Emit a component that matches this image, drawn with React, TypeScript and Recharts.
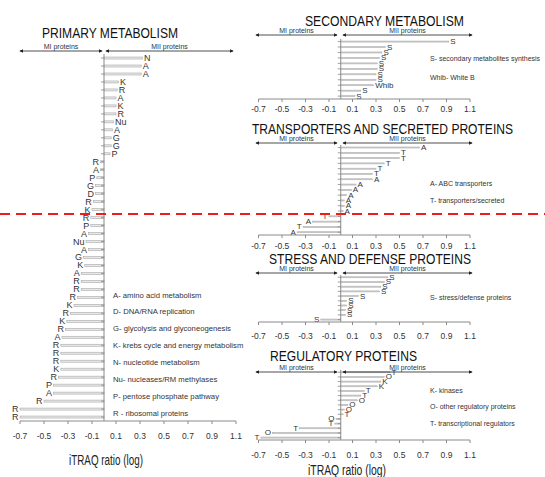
import React from 'react'
import { BarChart, Bar, XAxis, YAxis, ReferenceLine } from 'recharts'

const FONT = "'Liberation Sans', Arial, sans-serif"

const ratioTicks = [-0.7, -0.5, -0.3, -0.1, 0.1, 0.3, 0.5, 0.7, 0.9, 1.1]

// primary metabolism, top to bottom
const primaryCodes = [
  'N', 'A', 'A', 'K', 'R', 'A', 'K', 'R', 'Nu', 'A', 'G', 'G', 'P',
  'R', 'A', 'P', 'G', 'D', 'R', 'K', 'R', 'P', 'A', 'Nu', 'A', 'G', 'K', 'A', 'R', 'R', 'R', 'K',
  'R', 'K', 'R', 'A', 'R', 'R', 'R', 'K', 'R', 'P', 'A', 'R', 'R', 'R',
]
const primaryRatios = [
  0.32, 0.31, 0.31, 0.12, 0.11, 0.1, 0.1, 0.1, 0.08, 0.07, 0.06, 0.06, 0.05,
  -0.03, -0.03, -0.06, -0.07, -0.07, -0.09, -0.1, -0.11, -0.11, -0.13, -0.15, -0.13, -0.17, -0.16, -0.19, -0.19, -0.19, -0.22, -0.25,
  -0.28, -0.31, -0.32, -0.35, -0.36, -0.36, -0.36, -0.36, -0.38, -0.42, -0.42, -0.5, -0.7, -0.7,
]

const secondaryCodes = ['S', 'S', 'S', 'S', 'S', 'S', 'S', 'S', 'Whib', 'S', 'S']
const secondaryRatios = [0.92, 0.38, 0.35, 0.33, 0.31, 0.31, 0.3, 0.3, 0.28, 0.17, 0.12]

const transportCodes = ['A', 'T', 'T', 'T', 'T', 'T', 'A', 'A', 'A', 'A', 'A', 'A', 'A', 'T', 'A', 'T', 'A']
const transportRatios = [0.67, 0.5, 0.5, 0.37, 0.3, 0.27, 0.27, 0.13, 0.09, 0.05, 0.03, 0.03, 0.02, -0.1, -0.24, -0.32, -0.37]

const stressCodes = ['S', 'S', 'S', 'S', 'S', 'S', 'S', 'S', 'S', 'S']
const stressRatios = [0.4, 0.37, 0.34, 0.33, 0.15, 0.05, 0.05, 0.04, 0.04, -0.17]

const regulatoryCodes = ['T', 'O', 'K', 'K', 'T', 'T', 'O', 'O', 'O', 'T', 'O', 'T', 'T', 'O', 'T']
const regulatoryRatios = [0.42, 0.37, 0.34, 0.31, 0.2, 0.17, 0.14, 0.06, 0.03, 0.02, -0.04, -0.05, -0.35, -0.58, -0.68]

const primaryLegend = [
  'A- amino acid metabolism',
  'D- DNA/RNA replication',
  'G- glycolysis and glyconeogenesis',
  'K- krebs cycle and energy metabolism',
  'N- nucleotide metabolism',
  'Nu- nucleases/RM methylases',
  'P- pentose phosphate pathway',
  'R - ribosomal proteins',
]
const secondaryLegend = ['S- secondary metabolites synthesis', 'Whib- White B']
const transportLegend = ['A- ABC transporters', 'T- transporters/secreted']
const stressLegend = ['S- stress/defense proteins']
const regulatoryLegend = ['K- kinases', 'O- other regulatory proteins', 'T- transcriptional regulators']

type Row = { id: number; code: string; ratio: number }
const toRows = (codes: string[], ratios: number[]): Row[] =>
  codes.map((code, i) => ({ id: i, code, ratio: ratios[i] }))

// bar outline + axis tick at zero + category letter at the bar end
function ProteinBar(props: any) {
  const { x, y, width, height, payload, labelSize } = props
  const v = payload.ratio
  const a = x
  const b = x + width
  const zeroX = v >= 0 ? Math.min(a, b) : Math.max(a, b)
  const endX = v >= 0 ? Math.max(a, b) : Math.min(a, b)
  const cy = y + height / 2
  return (
    <g>
      <rect
        x={Math.min(a, b)}
        y={y}
        width={Math.abs(width)}
        height={height}
        fill="#e8e8e8"
        stroke="#a8a8a8"
        strokeWidth={0.6}
      />
      <line x1={zeroX - 3} x2={zeroX} y1={cy} y2={cy} stroke="#8a8a8a" strokeWidth={0.8} />
      <text
        x={v >= 0 ? endX + 1.5 : endX - 1.5}
        y={cy}
        textAnchor={v >= 0 ? 'start' : 'end'}
        dominantBaseline="central"
        fontSize={labelSize}
        fontFamily={FONT}
        fill="#333"
      >
        {payload.code}
      </text>
    </g>
  )
}

interface PanelProps {
  rows: Row[]
  left: number
  width: number
  plotLeft: number
  plotRight: number
  plotTop: number
  plotBottom: number
  tickGap: number
  labelSize: number
}

function RatioPanel({ rows, left, width, plotLeft, plotRight, plotTop, plotBottom, tickGap, labelSize }: PanelProps) {
  const marginTop = 4
  const axisH = 30
  const height = marginTop + (plotBottom - plotTop) + axisH
  return (
    <div style={{ position: 'absolute', left, top: plotTop - marginTop }}>
      <BarChart
        width={width}
        height={height}
        layout="vertical"
        data={rows}
        margin={{ top: marginTop, right: left + width - plotRight, bottom: 0, left: plotLeft - left }}
        barCategoryGap="38%"
      >
        <XAxis
          type="number"
          domain={[-0.7, 1.1]}
          ticks={ratioTicks}
          interval={0}
          height={axisH}
          tickSize={3}
          tickMargin={tickGap}
          stroke="#8a8a8a"
          tick={{ fontSize: 8.5, fill: '#333', fontFamily: FONT }}
          tickFormatter={(v: number) => v.toFixed(1)}
        />
        <YAxis type="category" dataKey="id" hide />
        <ReferenceLine x={0} stroke="#8a8a8a" />
        <Bar
          dataKey="ratio"
          isAnimationActive={false}
          shape={(p: any) => <ProteinBar {...p} labelSize={labelSize} />}
        />
      </BarChart>
    </div>
  )
}

function Arrows({ y, miFrom, miTo, miiFrom, miiTo }: { y: number; miFrom: number; miTo: number; miiFrom: number; miiTo: number }) {
  const txt = { fontSize: 7, fontFamily: FONT, fill: '#333', textAnchor: 'middle' as const }
  return (
    <g stroke="#222" strokeWidth={0.8}>
      <line x1={miFrom} x2={miTo} y1={y} y2={y} markerStart="url(#head)" markerEnd="url(#head)" />
      <line x1={miiFrom} x2={miiTo} y1={y} y2={y} markerStart="url(#head)" markerEnd="url(#head)" />
      <text x={(miFrom + miTo) / 2} y={y - 2} stroke="none" {...txt}>MI proteins</text>
      <text x={(miiFrom + miiTo) / 2} y={y - 2} stroke="none" {...txt}>MII proteins</text>
    </g>
  )
}

function Title({ cx, cy, w, children }: { cx: number; cy: number; w: number; children: string }) {
  return (
    <text
      x={cx}
      y={cy}
      textAnchor="middle"
      dominantBaseline="central"
      fontSize={15}
      fontFamily={FONT}
      fill="#111"
      textLength={w}
      lengthAdjust="spacingAndGlyphs"
    >
      {children}
    </text>
  )
}

function Legend({ x, y, step, size, lines }: { x: number; y: number; step: number; size: number; lines: string[] }) {
  return (
    <g>
      {lines.map((t, i) => (
        <text key={i} x={x} y={y + i * step} dominantBaseline="central" fontSize={size} fontFamily={FONT} fill="#333">
          {t}
        </text>
      ))}
    </g>
  )
}

export default function App() {
  return (
    <div style={{ position: 'absolute', left: 0, top: 0, width: 545, height: 477, background: '#fff', overflow: 'hidden' }}>
      <RatioPanel rows={toRows(primaryCodes, primaryRatios)} left={0} width={250} plotLeft={20} plotRight={236}
        plotTop={54} plotBottom={421} tickGap={9} labelSize={9} />
      <RatioPanel rows={toRows(secondaryCodes, secondaryRatios)} left={250} width={230} plotLeft={258.5} plotRight={470}
        plotTop={39} plotBottom={99} tickGap={4} labelSize={8} />
      <RatioPanel rows={toRows(transportCodes, transportRatios)} left={250} width={230} plotLeft={258.5} plotRight={470}
        plotTop={145} plotBottom={235} tickGap={5} labelSize={8} />
      <RatioPanel rows={toRows(stressCodes, stressRatios)} left={250} width={230} plotLeft={258.5} plotRight={470}
        plotTop={275} plotBottom={322} tickGap={8} labelSize={8} />
      <RatioPanel rows={toRows(regulatoryCodes, regulatoryRatios)} left={250} width={230} plotLeft={258.5} plotRight={470}
        plotTop={370} plotBottom={440} tickGap={9} labelSize={8} />

      <svg width={545} height={477} style={{ position: 'absolute', left: 0, top: 0, pointerEvents: 'none' }}>
        <defs>
          <marker id="head" viewBox="0 0 6 6" refX={5} refY={3} markerWidth={5} markerHeight={5} orient="auto-start-reverse">
            <path d="M0,0 L6,3 L0,6 z" fill="#222" />
          </marker>
        </defs>

        <Title cx={110} cy={32} w={136}>PRIMARY METABOLISM</Title>
        <Title cx={384.5} cy={20} w={159}>SECONDARY METABOLISM</Title>
        <Title cx={382.5} cy={128} w={261}>TRANSPORTERS AND SECRETED PROTEINS</Title>
        <Title cx={370} cy={258} w={202}>STRESS AND DEFENSE PROTEINS</Title>
        <Title cx={343.5} cy={355} w={147}>REGULATORY PROTEINS</Title>

        <Arrows y={51} miFrom={20} miTo={102} miiFrom={106} miiTo={233} />
        <Arrows y={35} miFrom={256} miTo={337} miiFrom={343} miiTo={472} />
        <Arrows y={143} miFrom={256} miTo={337} miiFrom={343} miiTo={472} />
        <Arrows y={273} miFrom={256} miTo={337} miiFrom={343} miiTo={472} />
        <Arrows y={372} miFrom={256} miTo={337} miiFrom={343} miiTo={472} />

        <Legend x={113} y={295} step={16.9} size={7.7} lines={primaryLegend} />
        <Legend x={430} y={58} step={19} size={7} lines={secondaryLegend} />
        <Legend x={430} y={183} step={17} size={7} lines={transportLegend} />
        <Legend x={430} y={297} step={17} size={7} lines={stressLegend} />
        <Legend x={430} y={390} step={16.5} size={7} lines={regulatoryLegend} />

        <text x={106} y={460} textAnchor="middle" dominantBaseline="central" fontSize={14} fontFamily={FONT} fill="#222"
          textLength={74} lengthAdjust="spacingAndGlyphs">iTRAQ ratio (log)</text>
        <text x={347} y={470} textAnchor="middle" dominantBaseline="central" fontSize={14} fontFamily={FONT} fill="#222"
          textLength={78} lengthAdjust="spacingAndGlyphs">iTRAQ ratio (log)</text>

        <line x1={0} x2={545} y1={214} y2={214} stroke="#f01c1c" strokeWidth={2} strokeDasharray="10 6" />
      </svg>
    </div>
  )
}
